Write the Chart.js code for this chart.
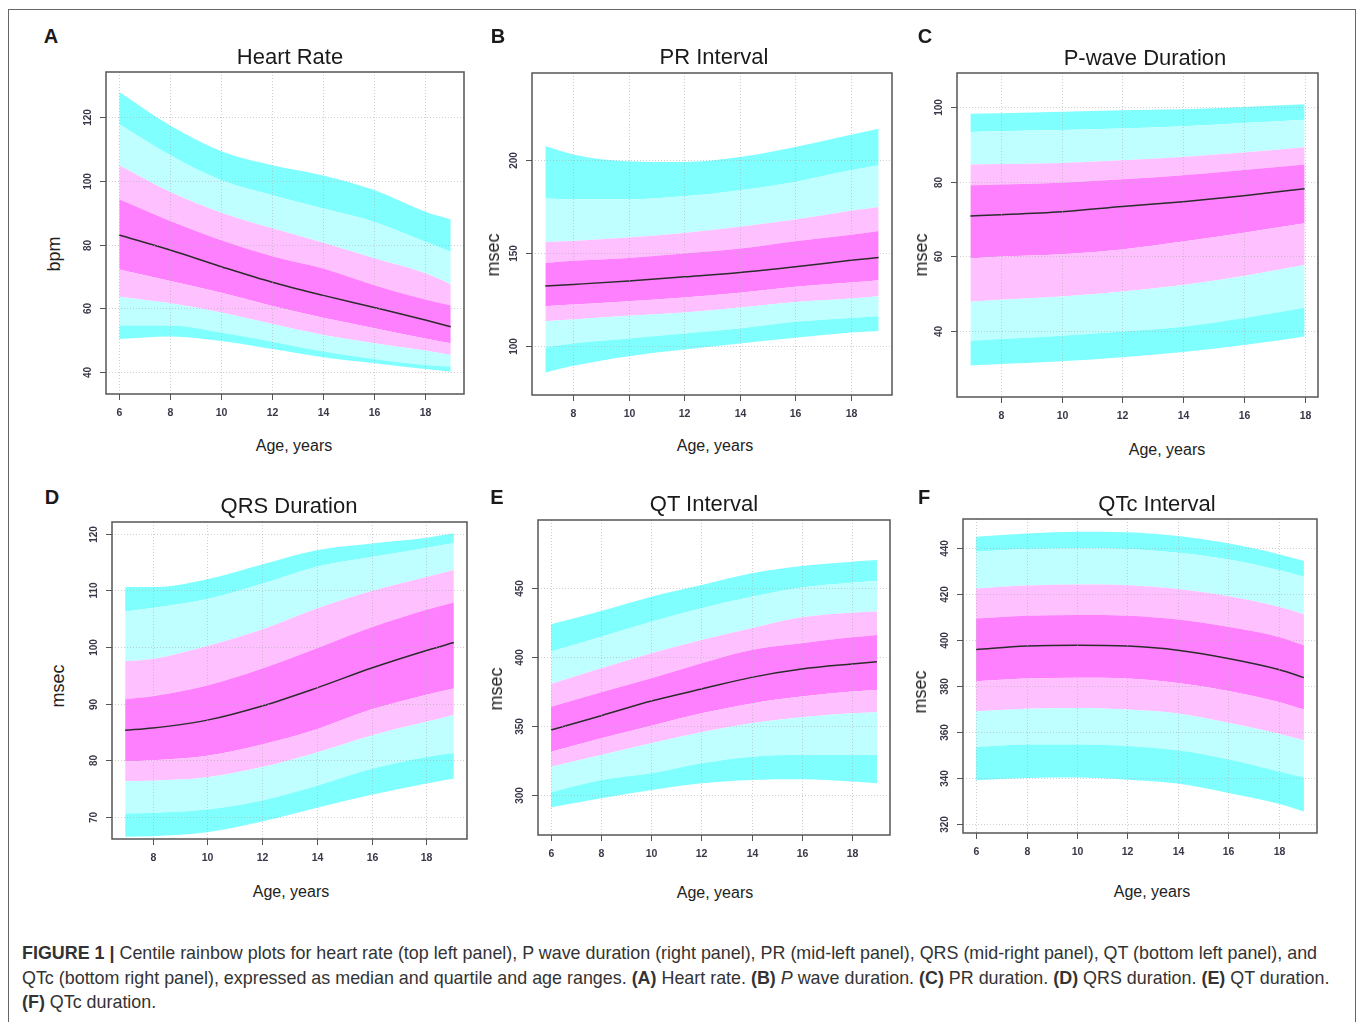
<html>
<head>
  <title>Centile rainbow plots</title>
  <script src="https://cdn.jsdelivr.net/npm/chart.js"></script>
  <style>
    body { margin:0; background:#fff; font-family:"Liberation Sans", Arial, sans-serif; color:#222; }
    #page { position:relative; width:1358px; height:1022px; overflow:hidden; }
    #frame { position:absolute; left:8px; top:9px; width:1346px; height:1040px; border:1.5px solid #666; }
    .lbl { position:absolute; white-space:nowrap; transform:translate(-50%,-50%); line-height:1; }
    .letter { font-weight:bold; font-size:20px; color:#1a1a1a; }
    .title { font-size:22px; color:#1a1a1a; }
    .xt { font-size:16px; color:#222; }
    .yt { font-size:18px; color:#222; transform:translate(-50%,-50%) rotate(-90deg); }
    canvas { position:absolute; }
    #caption { position:absolute; left:22px; top:941px; font-size:17.9px; line-height:24.5px; color:#333; white-space:nowrap; }
  </style>
</head>
<body>
<div id="page">
  <div id="frame"></div>
  <div id="caption">
    <div><b>FIGURE 1 |</b> Centile rainbow plots for heart rate (top left panel), P wave duration (right panel), PR (mid-left panel), QRS (mid-right panel), QT (bottom left panel), and</div>
    <div>QTc (bottom right panel), expressed as median and quartile and age ranges. <b>(A)</b> Heart rate. <b>(B)</b> <i>P</i> wave duration. <b>(C)</b> PR duration. <b>(D)</b> QRS duration. <b>(E)</b> QT duration.</div>
    <div><b>(F)</b> QTc duration.</div>
  </div>
</div>
<script>
  // ---- data (centile boundaries, bottom -> top) ----
  const hrAge = [6, 8, 10, 12, 14, 16, 18, 19];
  const hrMedian = [83.0, 78.3, 73.1, 68.2, 64.1, 60.3, 56.4, 54.3];
  const hrBounds = [
    [50.4, 51.2, 49.8, 47.3, 44.7, 42.8, 41.0, 40.2],
    [54.7, 54.7, 52.5, 49.6, 46.5, 44.2, 42.3, 41.8],
    [63.7, 61.6, 58.7, 55.1, 51.7, 49.1, 46.8, 45.4],
    [72.2, 68.6, 64.9, 60.8, 57.1, 53.8, 50.6, 49.1],
    [94.2, 87.4, 81.4, 76.4, 72.5, 67.3, 62.8, 60.9],
    [104.8, 96.5, 90.0, 85.1, 80.6, 75.7, 71.0, 67.6],
    [117.7, 108.0, 100.2, 95.5, 91.3, 87.1, 80.9, 77.8],
    [127.8, 117.3, 109.3, 104.9, 101.7, 97.1, 90.3, 87.9]
  ];

  const prAge = [7, 8, 10, 12, 14, 16, 18, 19];
  const prMedian = [132.3, 133.2, 135.1, 137.3, 139.6, 142.7, 146.2, 147.7];
  const prBounds = [
    [85.8, 89.4, 94.6, 98.2, 101.4, 104.5, 107.3, 108.2],
    [99.3, 101.4, 104.1, 106.8, 109.5, 113.1, 115.2, 116.1],
    [113.4, 114.3, 116.3, 118.1, 120.8, 123.8, 125.6, 126.9],
    [121.5, 122.4, 124.2, 126.2, 128.7, 131.9, 134.2, 135.5],
    [144.8, 145.9, 147.5, 149.8, 152.5, 156.5, 160.0, 162.0],
    [156.1, 156.6, 158.4, 160.9, 164.2, 168.1, 172.8, 174.9],
    [179.4, 179.0, 179.0, 180.6, 183.9, 188.4, 194.6, 197.3],
    [207.7, 203.2, 199.5, 199.1, 201.8, 207.2, 213.8, 217.0]
  ];

  const pwAge = [7, 8, 10, 12, 14, 16, 18];
  const pwMedian = [70.8, 71.1, 71.9, 73.3, 74.6, 76.2, 78.1];
  const pwBounds = [
    [30.7, 31.1, 31.8, 32.9, 34.3, 36.2, 38.5],
    [37.3, 37.8, 38.7, 39.8, 41.1, 43.4, 46.2],
    [47.8, 48.3, 49.2, 50.5, 52.3, 54.7, 57.6],
    [59.4, 59.9, 60.5, 61.8, 63.9, 66.3, 68.8],
    [79.0, 79.2, 79.7, 80.6, 81.7, 83.1, 84.6],
    [84.6, 84.7, 85.0, 85.7, 86.6, 87.8, 89.2],
    [93.3, 93.5, 93.8, 94.2, 94.8, 95.7, 96.6],
    [98.2, 98.3, 98.7, 99.1, 99.4, 100.0, 100.7]
  ];

  const qrsAge = [7, 8, 10, 12, 14, 16, 18, 19];
  const qrsMedian = [85.3, 85.7, 87.1, 89.6, 92.8, 96.3, 99.4, 100.8];
  const qrsBounds = [
    [66.5, 66.6, 67.3, 69.2, 71.6, 73.9, 75.9, 76.8],
    [70.6, 70.7, 71.3, 72.9, 75.5, 78.5, 80.6, 81.3],
    [76.3, 76.4, 77.0, 78.8, 81.4, 84.4, 86.8, 88.0],
    [79.8, 80.0, 80.8, 82.8, 85.5, 89.0, 91.6, 92.7],
    [90.8, 91.3, 93.2, 96.2, 99.8, 103.5, 106.6, 107.9],
    [97.5, 97.9, 100.2, 103.1, 106.8, 109.9, 112.4, 113.6],
    [106.3, 106.9, 108.5, 111.2, 114.2, 115.9, 117.5, 118.4],
    [110.6, 110.6, 112.0, 114.6, 117.1, 118.3, 119.3, 120.1]
  ];

  const qtAge = [6, 8, 10, 12, 14, 16, 18, 19];
  const qtMedian = [347.2, 357.5, 368.1, 376.8, 385.2, 391.2, 394.9, 396.5];
  const qtBounds = [
    [291.3, 297.8, 303.8, 308.7, 311.1, 311.5, 309.9, 308.7],
    [302.2, 311.1, 315.9, 323.1, 327.9, 329.1, 329.1, 329.1],
    [320.7, 329.1, 337.6, 345.5, 352.0, 356.3, 359.2, 360.0],
    [331.5, 341.2, 350.3, 359.2, 366.4, 371.3, 374.9, 376.1],
    [364.0, 374.4, 384.5, 395.4, 405.0, 409.8, 414.1, 415.8],
    [380.4, 391.7, 402.6, 412.2, 420.6, 428.6, 431.9, 432.7],
    [403.8, 414.6, 425.4, 435.1, 443.5, 450.2, 453.6, 454.8],
    [423.5, 433.1, 443.5, 451.9, 460.4, 465.7, 468.8, 470.0]
  ];

  const qtcAge = [6, 8, 10, 12, 14, 16, 18, 19];
  const qtcMedian = [396.0, 397.5, 397.9, 397.5, 395.7, 392.1, 387.3, 383.8];
  const qtcBounds = [
    [339.1, 340.1, 340.3, 339.4, 337.7, 333.6, 328.9, 325.6],
    [353.6, 354.7, 354.7, 354.1, 352.2, 348.3, 343.0, 340.5],
    [369.2, 370.3, 370.6, 369.9, 368.2, 364.2, 359.4, 356.5],
    [382.2, 383.4, 383.7, 383.4, 381.5, 378.0, 373.2, 369.9],
    [409.5, 410.7, 411.0, 410.7, 409.1, 405.9, 401.5, 397.9],
    [422.6, 423.9, 424.3, 424.0, 422.3, 419.2, 414.6, 411.4],
    [438.5, 439.7, 440.0, 439.7, 438.1, 435.2, 430.6, 427.7],
    [445.1, 446.5, 447.3, 447.0, 445.4, 442.2, 437.5, 434.5]
  ];

  // tick labels
  const hrYTicks = [40, 60, 80, 100, 120];
  const prYTicks = [100, 150, 200];
  const pwYTicks = [40, 60, 80, 100];
  const qrsYTicks = [70, 80, 90, 100, 110, 120];
  const qtYTicks = [300, 350, 400, 450];
  const qtcYTicks = [320, 340, 360, 380, 400, 420, 440];
  const ageTicks6 = [6, 8, 10, 12, 14, 16, 18];
  const ageTicks8 = [8, 10, 12, 14, 16, 18];

  // band colours: outer cyan, light cyan, light pink, magenta (IQR), ...
  const bandColors = ['#80ffff', '#c0ffff', '#ffc0ff', '#ff80ff', '#ffc0ff', '#c0ffff', '#80ffff'];

  // panels: plot box on the page + axis limits (R adds 4% on each side)
  const panels = [
    { letter: 'A', title: 'Heart Rate', ylab: 'bpm', age: hrAge, med: hrMedian, bounds: hrBounds,
      xt: ageTicks6, yt: hrYTicks, xr: [5.48, 19.52], yr: [33.2, 134.1], box: [106, 72, 464, 394],
      pos: { letter: [51, 36], title: [290, 57], xlab: [294, 446], ylab: [54, 254] } },
    { letter: 'B', title: 'PR Interval', ylab: 'msec', age: prAge, med: prMedian, bounds: prBounds,
      xt: ageTicks8, yt: prYTicks, xr: [6.52, 19.48], yr: [73.7, 247.0], box: [532, 73, 892, 395],
      pos: { letter: [498, 36], title: [714, 57], xlab: [715, 446], ylab: [493, 255] } },
    { letter: 'C', title: 'P-wave Duration', ylab: 'msec', age: pwAge, med: pwMedian, bounds: pwBounds,
      xt: ageTicks8, yt: pwYTicks, xr: [6.56, 18.44], yr: [22.25, 109.1], box: [957, 73, 1318, 397],
      pos: { letter: [925, 36], title: [1145, 58], xlab: [1167, 450], ylab: [921, 255] } },
    { letter: 'D', title: 'QRS Duration', ylab: 'msec', age: qrsAge, med: qrsMedian, bounds: qrsBounds,
      xt: ageTicks8, yt: qrsYTicks, xr: [6.52, 19.48], yr: [66.1, 122.1], box: [112, 522, 467, 839],
      pos: { letter: [52, 497], title: [289, 506], xlab: [291, 892], ylab: [58, 686] } },
    { letter: 'E', title: 'QT Interval', ylab: 'msec', age: qtAge, med: qtMedian, bounds: qtBounds,
      xt: ageTicks6, yt: qtYTicks, xr: [5.48, 19.52], yr: [271.3, 498.9], box: [538, 520, 890, 835],
      pos: { letter: [497, 497], title: [704, 504], xlab: [715, 893], ylab: [496, 689] } },
    { letter: 'F', title: 'QTc Interval', ylab: 'msec', age: qtcAge, med: qtcMedian, bounds: qtcBounds,
      xt: ageTicks6, yt: qtcYTicks, xr: [5.48, 19.52], yr: [316.2, 452.8], box: [963, 519, 1317, 833],
      pos: { letter: [924, 497], title: [1157, 504], xlab: [1152, 892], ylab: [920, 692] } }
  ];

  const PAD = { left: 40, top: 10, right: 10, bottom: 40 };

  // R-style axes: dotted grid, box, outward ticks, rotated y labels
  const rAxes = {
    id: 'rAxes',
    afterDatasetsDraw(chart, args, opts) {
      const { ctx, chartArea: a } = chart;
      const x = chart.scales.x, y = chart.scales.y;
      ctx.save();
      ctx.lineWidth = 1;
      ctx.strokeStyle = 'rgba(175,175,175,0.6)';
      ctx.setLineDash([1, 2]);
      opts.xt.forEach(v => {
        const px = Math.round(x.getPixelForValue(v)) + 0.5;
        ctx.beginPath(); ctx.moveTo(px, a.top); ctx.lineTo(px, a.bottom); ctx.stroke();
      });
      opts.yt.forEach(v => {
        const py = Math.round(y.getPixelForValue(v)) + 0.5;
        ctx.beginPath(); ctx.moveTo(a.left, py); ctx.lineTo(a.right, py); ctx.stroke();
      });
      ctx.setLineDash([]);
      ctx.strokeStyle = '#555';
      ctx.lineWidth = 1.5;
      ctx.strokeRect(a.left, a.top, a.right - a.left, a.bottom - a.top);
      ctx.lineWidth = 1;
      ctx.fillStyle = '#3a3848';
      ctx.font = 'bold 10.5px "Liberation Sans", Arial, sans-serif';
      ctx.textAlign = 'center';
      ctx.textBaseline = 'middle';
      opts.xt.forEach(v => {
        const px = Math.round(x.getPixelForValue(v)) + 0.5;
        ctx.beginPath(); ctx.moveTo(px, a.bottom); ctx.lineTo(px, a.bottom + 6); ctx.stroke();
        ctx.fillText(String(v), px, a.bottom + 19);
      });
      ctx.font = 'bold 10px "Liberation Sans", Arial, sans-serif';
      opts.yt.forEach(v => {
        const py = Math.round(y.getPixelForValue(v)) + 0.5;
        ctx.beginPath(); ctx.moveTo(a.left - 6, py); ctx.lineTo(a.left, py); ctx.stroke();
        ctx.save();
        ctx.translate(a.left - 18, py);
        ctx.rotate(-Math.PI / 2);
        ctx.fillText(String(v), 0, 0);
        ctx.restore();
      });
      ctx.restore();
    }
  };

  const page = document.getElementById('page');

  function addLabel(cls, text, xy) {
    const d = document.createElement('div');
    d.className = 'lbl ' + cls;
    d.textContent = text;
    d.style.left = xy[0] + 'px';
    d.style.top = xy[1] + 'px';
    page.appendChild(d);
  }

  panels.forEach(p => {
    const [l, t, r, b] = p.box;
    const cv = document.createElement('canvas');
    cv.width = (r - l) + PAD.left + PAD.right;
    cv.height = (b - t) + PAD.top + PAD.bottom;
    cv.style.left = (l - PAD.left) + 'px';
    cv.style.top = (t - PAD.top) + 'px';
    page.appendChild(cv);

    addLabel('letter', p.letter, p.pos.letter);
    addLabel('title', p.title, p.pos.title);
    addLabel('xt', 'Age, years', p.pos.xlab);
    addLabel('yt', p.ylab, p.pos.ylab);

    const toXY = vals => p.age.map((a, i) => ({ x: a, y: vals[i] }));
    const datasets = [{
      label: 'median',
      data: toXY(p.med),
      borderColor: '#2b2b2b',
      borderWidth: 1.5,
      pointRadius: 0,
      fill: false,
      cubicInterpolationMode: 'monotone'
    }];
    p.bounds.forEach((vals, i) => {
      datasets.push({
        label: 'c' + i,
        data: toXY(vals),
        borderWidth: 0,
        borderColor: 'rgba(0,0,0,0)',
        pointRadius: 0,
        fill: i === 0 ? false : '-1',
        backgroundColor: i === 0 ? 'rgba(0,0,0,0)' : bandColors[i - 1],
        cubicInterpolationMode: 'monotone'
      });
    });

    new Chart(cv, {
      type: 'line',
      data: { datasets },
      options: {
        responsive: false,
        animation: false,
        events: [],
        layout: { padding: PAD },
        plugins: {
          legend: { display: false },
          tooltip: { enabled: false },
          rAxes: { xt: p.xt, yt: p.yt }
        },
        scales: {
          x: { type: 'linear', min: p.xr[0], max: p.xr[1], display: false },
          y: { type: 'linear', min: p.yr[0], max: p.yr[1], display: false }
        }
      },
      plugins: [rAxes]
    });
  });
</script>
</body>
</html>
